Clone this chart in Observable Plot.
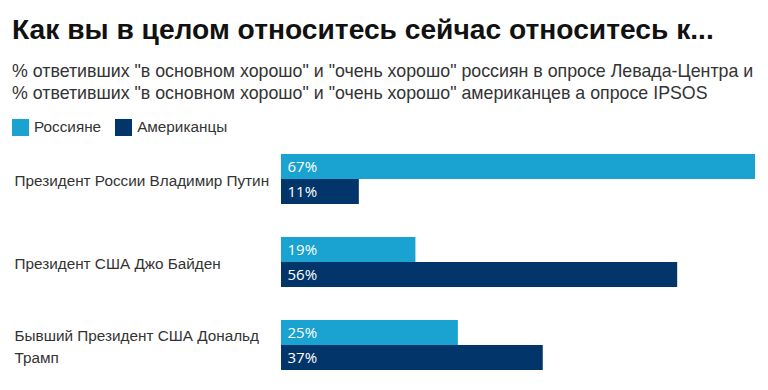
<!DOCTYPE html>
<html><head><meta charset="utf-8">
<script src="https://cdn.jsdelivr.net/npm/d3@7"></script>
<script src="https://cdn.jsdelivr.net/npm/@observablehq/plot@0.6"></script>
<style>
body{margin:0;background:#fff;width:768px;height:390px;overflow:hidden;}
#title{position:absolute;left:12px;top:13px;font-family:"Liberation Sans",Arial,sans-serif;font-weight:bold;font-size:28.2px;color:#111;white-space:nowrap;}
#sub{position:absolute;left:12px;top:60px;font-family:"Liberation Sans",Arial,sans-serif;font-size:17.8px;line-height:22px;color:#333;white-space:nowrap;}
#legend{position:absolute;left:12px;top:118px;font-family:"Liberation Sans",Arial,sans-serif;font-size:15.3px;color:#333;display:flex;align-items:center;}
.sw{display:inline-block;width:17px;height:17px;margin-right:5px;}
.it{display:flex;align-items:center;margin-right:14px;}
#chart{position:absolute;left:0;top:145px;}
</style></head><body>
<div id="title">Как вы в целом относитесь сейчас относитесь к...</div>
<div id="sub">% ответивших "в основном хорошо" и "очень хорошо" россиян в опросе Левада-Центра и<br>% ответивших "в основном хорошо" и "очень хорошо" американцев а опросе IPSOS</div>
<div id="legend"></div>
<div id="chart"></div>
<script>
const categories = ["Президент России Владимир Путин", "Президент США Джо Байден", "Бывший Президент США Дональд Трамп"];
const seriesNames = ["Россияне", "Американцы"];
const russians = [67, 19, 25];
const americans = [11, 56, 37];
const colors = ["#1aa2d0", "#02356a"];

const legend = document.getElementById("legend");
seriesNames.forEach((s, i) => {
  const it = document.createElement("span"); it.className = "it";
  it.innerHTML = `<span class="sw" style="background:${colors[i]}"></span>${s}`;
  legend.appendChild(it);
});

const data = [];
categories.forEach((c, i) => {
  data.push({cat: c, series: seriesNames[0], value: russians[i]});
  data.push({cat: c, series: seriesNames[1], value: americans[i]});
});

// wrap labels to a maximum pixel width using canvas measurement
const ctx = document.createElement("canvas").getContext("2d");
ctx.font = "15.3px 'Liberation Sans', Arial, sans-serif";
function wrap(s, maxW) {
  const words = s.split(" "); const lines = []; let cur = "";
  for (const w of words) {
    const t = cur ? cur + " " + w : w;
    if (ctx.measureText(t).width > maxW && cur) { lines.push(cur); cur = w; } else cur = t;
  }
  lines.push(cur);
  return lines.join("\n");
}

const chart = Plot.plot({
  width: 768, height: 245,
  marginLeft: 281, marginRight: 13, marginTop: 8, marginBottom: 20,
  x: {domain: [0, 67], axis: null},
  y: {domain: seriesNames, axis: null, paddingInner: 0.02, paddingOuter: 0},
  fy: {domain: categories, axis: null, paddingInner: 0.386, paddingOuter: 0},
  color: {domain: seriesNames, range: colors},
  style: {fontFamily: "'Liberation Sans', Arial, sans-serif"},
  marks: [
    Plot.barX(data, {fy: "cat", y: "series", x: "value", fill: "series"}),
    Plot.text(data, {fy: "cat", y: "series", x: 0, text: d => d.value + "%", textAnchor: "start", dx: 6, fill: "white", fontSize: 15, fontFamily: "'Open Sans', sans-serif"}),
    Plot.text(categories, {fy: d => d, text: d => wrap(d, 258), frameAnchor: "left", textAnchor: "start", dx: -267, fontSize: 15.3, fill: "#333", lineHeight: 1.45})
  ]
});
document.getElementById("chart").appendChild(chart);
</script>
</body></html>
